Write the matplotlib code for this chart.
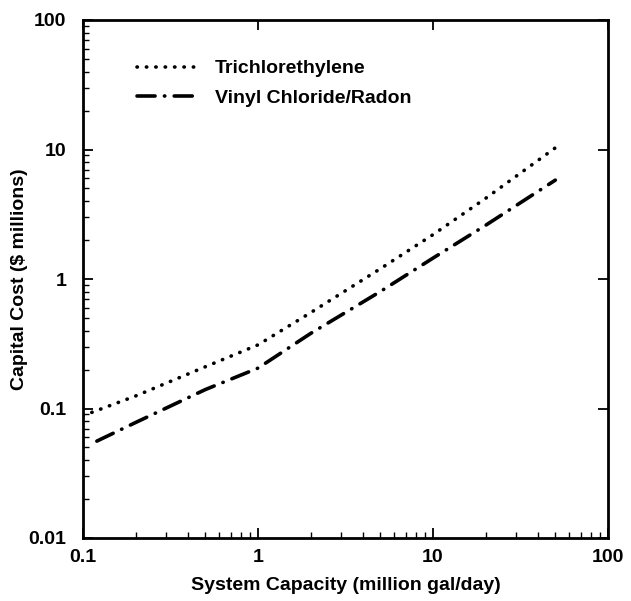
import matplotlib
matplotlib.use("Agg")
import matplotlib.pyplot as plt
from matplotlib.ticker import FixedLocator, FixedFormatter, LogLocator, NullFormatter

# Data
tce_x = [0.1, 0.2, 0.5, 1, 2, 5, 10, 20, 50]
tce_y = [0.088, 0.125, 0.21, 0.31, 0.55, 1.2, 2.2, 4.2, 10.3]
vc_x = [0.12, 0.2, 0.5, 1, 2, 5, 10, 20, 50]
vc_y = [0.056, 0.078, 0.14, 0.205, 0.38, 0.8, 1.45, 2.6, 5.8]

x_ticks = [0.1, 1, 10, 100]
x_labels = ["0.1", "1", "10", "100"]
y_ticks = [0.01, 0.1, 1, 10, 100]
y_labels = ["0.01", "0.1", "1", "10", "100"]

plt.rcParams['font.family'] = ['Liberation Sans', 'DejaVu Sans']
plt.rcParams['font.weight'] = 'bold'
plt.rcParams['axes.labelweight'] = 'bold'

fig = plt.figure(figsize=(6.31, 6.01), dpi=100)
ax = fig.add_axes([83/631, 1-538/601, (608-83)/631, (538-20)/601])

ax.plot(tce_x, tce_y, color='black', lw=2.6, dashes=[0.1, 2.5],
        dash_capstyle='round', label='Trichlorethylene')
ax.plot(vc_x, vc_y, color='black', lw=2.6, dashes=[5.0, 2.6, 0.1, 2.6],
        dash_capstyle='round', label='Vinyl Chloride/Radon')

ax.set_xscale('log')
ax.set_yscale('log')
ax.set_xlim(0.1, 100)
ax.set_ylim(0.01, 100)

ax.xaxis.set_major_locator(FixedLocator(x_ticks))
ax.xaxis.set_major_formatter(FixedFormatter(x_labels))
ax.yaxis.set_major_locator(FixedLocator(y_ticks))
ax.yaxis.set_major_formatter(FixedFormatter(y_labels))
ax.xaxis.set_minor_locator(LogLocator(base=10, subs=range(2, 10)))
ax.yaxis.set_minor_locator(LogLocator(base=10, subs=range(2, 10)))
ax.xaxis.set_minor_formatter(NullFormatter())
ax.yaxis.set_minor_formatter(NullFormatter())

ax.tick_params(which='major', direction='in', length=7, width=1.3,
               top=True, right=True, labelsize=14)
ax.tick_params(axis='x', which='major', pad=8)
ax.tick_params(axis='y', which='major', pad=12)
ax.tick_params(which='minor', direction='in', length=4, width=1.0,
               top=False, right=False)
for s in ax.spines.values():
    s.set_linewidth(2.0)

ax.set_xlabel('System Capacity (million gal/day)', fontsize=14,
              fontweight='bold', labelpad=8)
ax.set_ylabel('Capital Cost ($ millions)', fontsize=14,
              fontweight='bold', labelpad=0)

ax.legend(loc='upper left', bbox_to_anchor=(0.07, 0.957), frameon=False,
          fontsize=14, handlelength=3.0, handletextpad=1.0, labelspacing=0.6)

fig.savefig('out.png', dpi=100)
